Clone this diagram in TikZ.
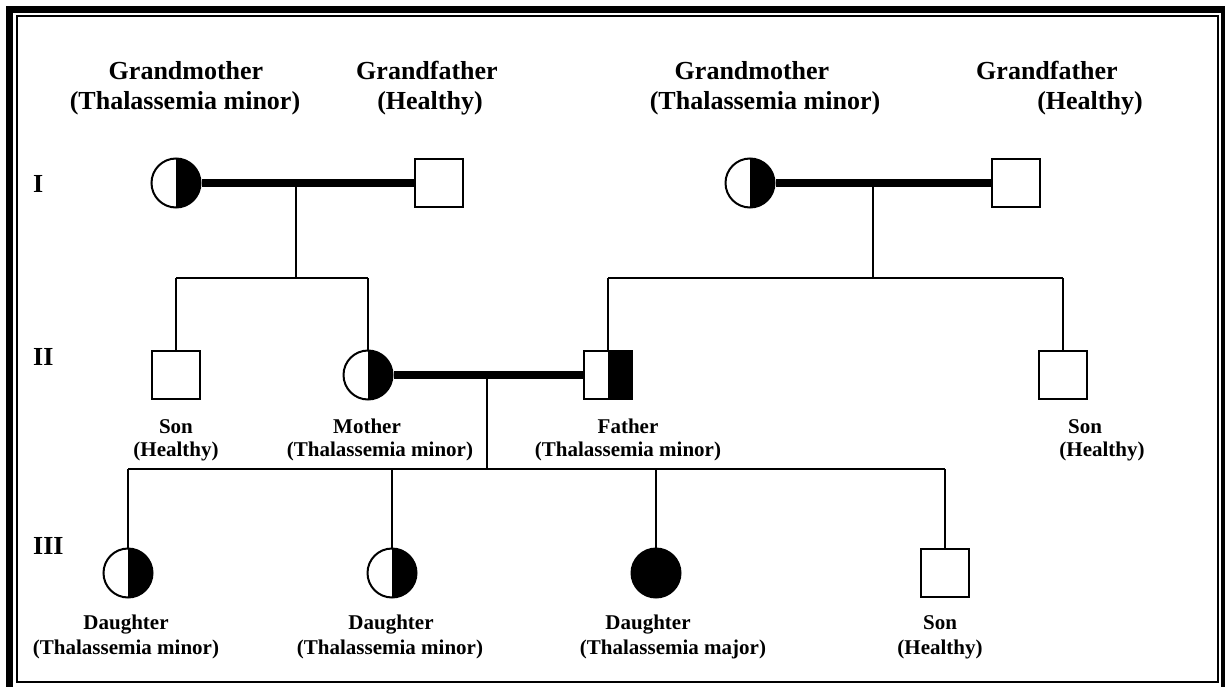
\documentclass[tikz,border=0pt]{standalone}
\usepackage{fontspec}
\setmainfont{Liberation Serif}
\begin{document}
\begin{tikzpicture}[x=1pt,y=-1pt,
  kin/.style={line width=2pt},
  mate/.style={line width=8pt},
  fem/.style={circle, draw, line width=2pt, minimum size=49pt, inner sep=0pt, fill=white},
  male/.style={rectangle, draw, line width=2pt, minimum size=48pt, inner sep=0pt, fill=white},
  carrier/.style={path picture={\fill[black] (path picture bounding box.south) rectangle (path picture bounding box.north east);}},
  affected/.style={fill=black},
  big/.style={font=\fontsize{26}{30}\selectfont\bfseries, inner sep=0pt, anchor=base},
  small/.style={font=\fontsize{21}{24}\selectfont\bfseries, inner sep=0pt, anchor=base},
  gen/.style={font=\fontsize{26}{30}\selectfont\bfseries, inner sep=0pt, anchor=base west}]
\useasboundingbox (0,0) rectangle (1225,687);
% frame
\draw[line width=7pt] (9.5,9.5) rectangle (1224.5,692);
\draw[line width=2pt] (16.5,16.5) rectangle (1218,682);

% generation I
\node[fem,carrier] (gm1) at (176,183) {};
\node[male] (gf1) at (439,183) {};
\node[fem,carrier] (gm2) at (750,183) {};
\node[male] (gf2) at (1016,183) {};
% generation II
\node[male] (son1) at (176,375) {};
\node[fem,carrier] (mother) at (368,375) {};
\node[male,carrier] (father) at (608,375) {};
\node[male] (son2) at (1063,375) {};
% generation III
\node[fem,carrier] (d1) at (128,573) {};
\node[fem,carrier] (d2) at (392,573) {};
\node[fem,affected] (d3) at (656,573) {};
\node[male] (s3) at (945,573) {};

% junctions
\coordinate (j1) at (296,278);
\coordinate (j2) at (873,278);
\coordinate (j3) at (487,469);

% mating lines
\draw[mate] (gm1.east) -- (gf1.west);
\draw[mate] (gm2.east) -- (gf2.west);
\draw[mate] (mother.east) -- (father.west);

% descent lines
\draw[kin] (j1 |- gm1) -- (j1);
\draw[kin] (son1 |- j1) -- (mother |- j1);
\draw[kin] (son1 |- j1) -- (son1.north);
\draw[kin] (mother |- j1) -- (mother.north);

\draw[kin] (j2 |- gm2) -- (j2);
\draw[kin] (father |- j2) -- (son2 |- j2);
\draw[kin] (father |- j2) -- (father.north);
\draw[kin] (son2 |- j2) -- (son2.north);

\draw[kin] (j3 |- mother) -- (j3);
\draw[kin] (d1 |- j3) -- (s3 |- j3);
\draw[kin] (d1 |- j3) -- (d1.north);
\draw[kin] (d2 |- j3) -- (d2.north);
\draw[kin] (d3 |- j3) -- (d3.north);
\draw[kin] (s3 |- j3) -- (s3.north);

% generation labels
\node[gen] (gI) at (33,193) {I};
\node[gen] (gII) at (33,365) {II};
\node[gen] (gIII) at (33,554) {III};

% headings generation I
\node[big] (t1a) at (186,80) {Grandmother};
\node[big] (t1b) at (185,110) {(Thalassemia minor)};
\node[big] (t2a) at (427,80) {Grandfather};
\node[big] (t2b) at (430,110) {(Healthy)};
\node[big] (t3a) at (752,80) {Grandmother};
\node[big] (t3b) at (765,110) {(Thalassemia minor)};
\node[big] (t4a) at (1047,80) {Grandfather};
\node[big] (t4b) at (1090,110) {(Healthy)};

% labels generation II
\node[small] (l1a) at (176,433) {Son};
\node[small] (l1b) at (176,456) {(Healthy)};
\node[small] (l2a) at (367,433) {Mother};
\node[small] (l2b) at (380,456) {(Thalassemia minor)};
\node[small] (l3a) at (628,433) {Father};
\node[small] (l3b) at (628,456) {(Thalassemia minor)};
\node[small] (l4a) at (1085,433) {Son};
\node[small] (l4b) at (1102,456) {(Healthy)};

% labels generation III
\node[small] (m1a) at (126,629) {Daughter};
\node[small] (m1b) at (126,654) {(Thalassemia minor)};
\node[small] (m2a) at (391,629) {Daughter};
\node[small] (m2b) at (390,654) {(Thalassemia minor)};
\node[small] (m3a) at (648,629) {Daughter};
\node[small] (m3b) at (673,654) {(Thalassemia major)};
\node[small] (m4a) at (940,629) {Son};
\node[small] (m4b) at (940,654) {(Healthy)};
\end{tikzpicture}
\end{document}
